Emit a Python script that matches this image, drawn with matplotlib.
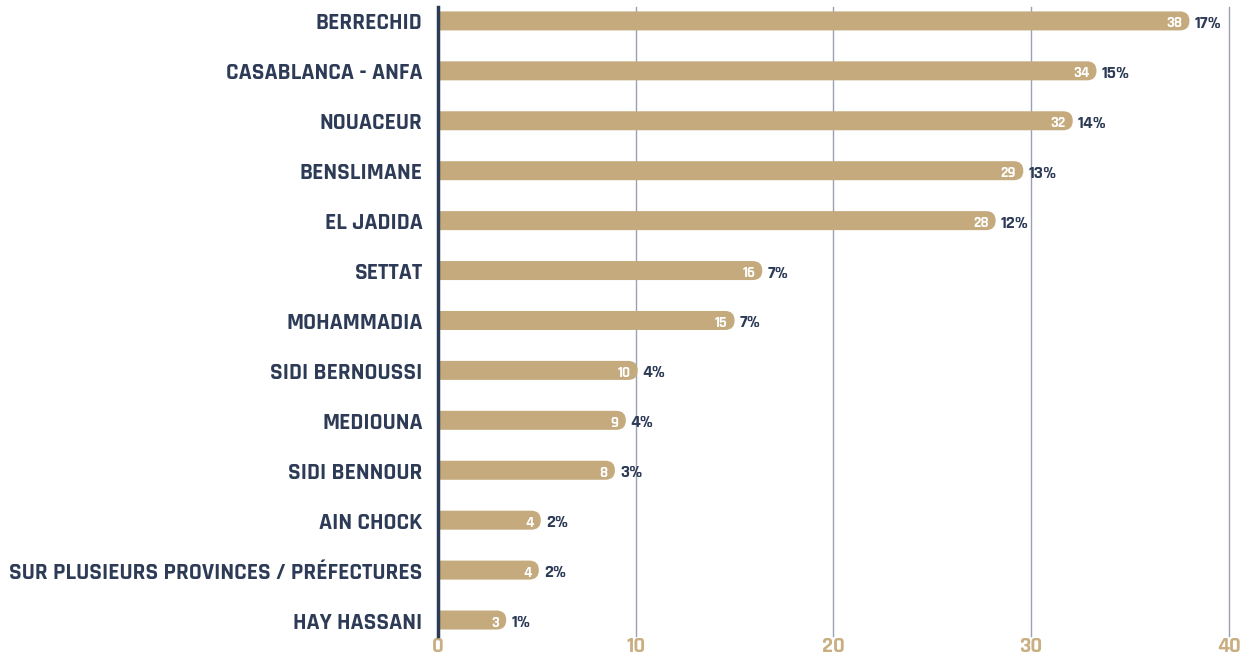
import matplotlib
matplotlib.use('Agg')
import matplotlib.pyplot as plt
from matplotlib.patches import FancyBboxPatch

# Données
categories = ['BERRECHID', 'CASABLANCA - ANFA', 'NOUACEUR', 'BENSLIMANE', 'EL JADIDA',
              'SETTAT', 'MOHAMMADIA', 'SIDI BERNOUSSI', 'MEDIOUNA', 'SIDI BENNOUR',
              'AIN CHOCK', 'SUR PLUSIEURS PROVINCES / PRÉFECTURES', 'HAY HASSANI']
values = [38, 34, 32, 29, 28, 16, 15, 10, 9, 8, 4, 4, 3]
# longueurs des barres
lengths = [38.0, 33.3, 32.1, 29.6, 28.2, 16.4, 15.0, 10.1, 9.5, 8.95, 5.2, 5.1, 3.45]
percents = ['17%', '15%', '14%', '13%', '12%', '7%', '7%', '4%', '4%', '3%', '2%', '2%', '1%']
xticks = [0, 10, 20, 30, 40]

BAR = '#C4AA7D'
NAVY = '#2D3B57'
GOLD = '#C8AE80'
GRID = '#9BA1B2'

plt.rcParams['font.family'] = ['Rajdhani', 'Saira Semi Condensed', 'Barlow Semi Condensed', 'DejaVu Sans']

fig = plt.figure(figsize=(12.51, 6.55), dpi=100)
ax = fig.add_axes([0.3501, 0.029, 0.6323, 0.9604])

ax.set_xlim(0, 40)
ax.set_ylim(len(values) - 1 + 0.32, -0.28)

# échelle px -> unités pour arrondir les barres
bbox = ax.get_window_extent()
px_x = bbox.width / 40
px_y = bbox.height / (len(values) - 1 + 0.6)
h = 19 / px_y
r = 9.5 / px_x

for i, (v, l, p) in enumerate(zip(values, lengths, percents)):
    patch = FancyBboxPatch((-1, i - h / 2), l + 1, h,
                           boxstyle='round,pad=0,rounding_size=%f' % r,
                           mutation_aspect=px_x / px_y,
                           fc=BAR, ec='none', zorder=3, clip_on=True)
    ax.add_patch(patch)
    ax.text(l - 7 / px_x, i + 0.04, str(v), ha='right', va='center',
            color='white', fontsize=11, fontweight='bold', zorder=4)
    ax.text(l + 5 / px_x, i + 0.04, p, ha='left', va='center',
            color=NAVY, fontsize=13, fontweight='bold', zorder=4)

ax.set_yticks(range(len(categories)))
ax.set_yticklabels(categories, fontsize=17, fontweight='bold', color=NAVY)
ax.set_xticks(xticks)
ax.set_xticklabels([str(t) for t in xticks], fontsize=16, fontweight='bold', color=GOLD)
ax.tick_params(length=0)
ax.tick_params(axis='y', pad=11)
ax.tick_params(axis='x', pad=1)

for t in xticks[1:]:
    ax.axvline(t, color=GRID, lw=1, zorder=1, clip_on=False)

for s in ['top', 'right', 'bottom']:
    ax.spines[s].set_visible(False)
ax.spines['left'].set_color(NAVY)
ax.spines['left'].set_linewidth(2.5)
ax.spines['left'].set_zorder(5)

fig.savefig('out.png', dpi=100)
